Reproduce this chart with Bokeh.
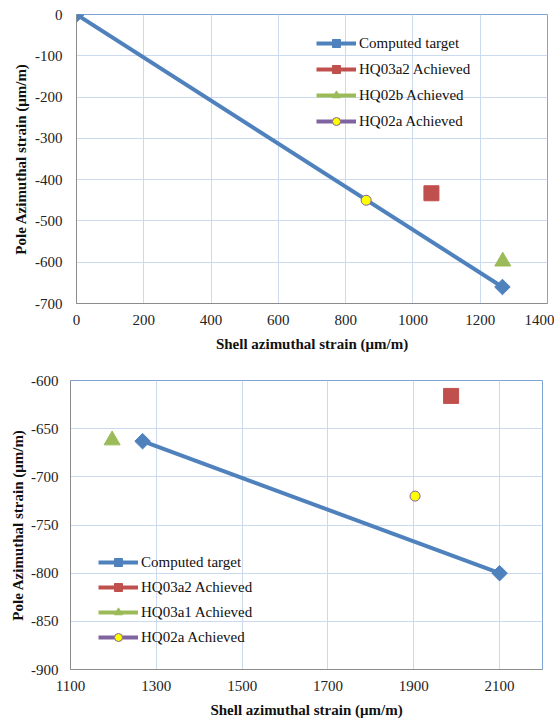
import math
from bokeh.plotting import figure
from bokeh.layouts import column
from bokeh.models import Legend, LegendItem, FixedTicker, Range1d
from bokeh.embed import file_html
from bokeh.resources import INLINE

# ---- Data: top chart ----
top_target_x = [0, 1266]
top_target_y = [0, -660]
top_hq03a2_x = [1055]
top_hq03a2_y = [-433]
top_hq02b_x = [1267]
top_hq02b_y = [-598]
top_hq02a_x = [861]
top_hq02a_y = [-450]
top_xticks = [0, 200, 400, 600, 800, 1000, 1200, 1400]
top_yticks = [0, -100, -200, -300, -400, -500, -600, -700]

# ---- Data: bottom chart ----
bot_target_x = [1268, 2100]
bot_target_y = [-663, -800]
bot_hq03a2_x = [1987]
bot_hq03a2_y = [-616]
bot_hq03a1_x = [1197]
bot_hq03a1_y = [-662]
bot_hq02a_x = [1903]
bot_hq02a_y = [-720]
bot_xticks = [1100, 1300, 1500, 1700, 1900, 2100]
bot_yticks = [-600, -650, -700, -750, -800, -850, -900]

BLUE = "#4F81BD"
RED = "#C0504D"
GREEN = "#9BBB59"
PURPLE = "#8064A2"
YELLOW = "#FFFF00"
GRID = "#CBDAEE"
OUTLINE = "#7FA5D6"
AXIS = "#8C8C8C"
FONT = "Liberation Serif"
XTITLE = "Shell azimuthal strain (\u03bcm/m)"
YTITLE = "Pole Azimuthal strain (\u03bcm/m)"


def fmt(v):
    return "%d" % v


def style(p, xticks, yticks, ylab_standoff, ytitle_standoff):
    p.xaxis.ticker = FixedTicker(ticks=xticks)
    p.yaxis.ticker = FixedTicker(ticks=yticks)
    p.xgrid.ticker = FixedTicker(ticks=xticks)
    p.ygrid.ticker = FixedTicker(ticks=yticks)
    p.xaxis.major_label_overrides = {float(t): fmt(t) for t in xticks}
    p.yaxis.major_label_overrides = {float(t): fmt(t) for t in yticks}
    for ax in (p.xaxis[0], p.yaxis[0]):
        ax.major_tick_line_color = None
        ax.minor_tick_line_color = None
        ax.major_tick_out = 0
        ax.major_tick_in = 0
        ax.axis_line_color = AXIS
        ax.axis_line_width = 1
        ax.major_label_text_font = FONT
        ax.major_label_text_font_size = "15px"
        ax.major_label_text_color = "#222222"
        ax.axis_label_text_font = FONT
        ax.axis_label_text_font_size = "15px"
        ax.axis_label_text_font_style = "bold"
        ax.axis_label_text_color = "#111111"
    p.xaxis.major_label_standoff = 11
    p.yaxis.major_label_standoff = ylab_standoff
    p.xaxis.axis_label_standoff = 8
    p.yaxis.axis_label_standoff = ytitle_standoff
    p.xaxis.axis_label = XTITLE
    p.yaxis.axis_label = YTITLE
    p.grid.grid_line_color = GRID
    p.grid.grid_line_width = 1
    p.outline_line_color = OUTLINE
    p.outline_line_width = 1
    p.background_fill_color = "white"
    p.border_fill_color = "white"


def add_series(p, tx, ty, ax_, ay_, bx_, by_, cx_, cy_, b_label, loc, spacing):
    items = []
    l1 = p.line(tx, ty, line_color=BLUE, line_width=4)
    m1 = p.scatter(tx, ty, marker="square", angle=math.pi / 4, size=11,
                   fill_color=BLUE, line_color=BLUE)
    items.append(LegendItem(label="Computed target", renderers=[l1, m1]))

    l2 = p.line(ax_, ay_, line_color=RED, line_width=4)
    m2 = p.scatter(ax_, ay_, marker="square", size=15, fill_color=RED, line_color=RED)
    items.append(LegendItem(label="HQ03a2 Achieved", renderers=[l2, m2]))

    l3 = p.line(bx_, by_, line_color=GREEN, line_width=4)
    m3 = p.scatter(bx_, by_, marker="triangle", size=16, fill_color=GREEN, line_color=GREEN)
    items.append(LegendItem(label=b_label, renderers=[l3, m3]))

    l4 = p.line(cx_, cy_, line_color=PURPLE, line_width=4)
    m4 = p.scatter(cx_, cy_, marker="circle", size=10, fill_color=YELLOW,
                   line_color=PURPLE, line_width=1)
    items.append(LegendItem(label="HQ02a Achieved", renderers=[l4, m4]))

    leg = Legend(items=items, location=loc)
    leg.background_fill_alpha = 0
    leg.border_line_color = None
    leg.padding = 0
    leg.margin = 0
    leg.spacing = spacing
    leg.glyph_width = 40
    leg.glyph_height = 20
    leg.label_height = 20
    leg.label_standoff = 3
    leg.label_text_font = FONT
    leg.label_text_font_size = "15px"
    leg.label_text_color = "#111111"
    p.add_layout(leg, "center")


# ---- Top figure ----
p1 = figure(width=554, height=355, output_backend="svg", toolbar_location=None,
            x_range=Range1d(0, 1400), y_range=Range1d(-700, 0),
            min_border_left=76, min_border_right=7, min_border_top=14,
            min_border_bottom=52)
style(p1, top_xticks, top_yticks, 14, 3)
add_series(p1, top_target_x, top_target_y, top_hq03a2_x, top_hq03a2_y,
           top_hq02b_x, top_hq02b_y, top_hq02a_x, top_hq02a_y,
           "HQ02b Achieved", (240, 172), 6)

# ---- Bottom figure ----
p2 = figure(width=554, height=366, output_backend="svg", toolbar_location=None,
            x_range=Range1d(1100, 2200), y_range=Range1d(-900, -600),
            min_border_left=70, min_border_right=12, min_border_top=25,
            min_border_bottom=52)
style(p2, bot_xticks, bot_yticks, 12, 2)
add_series(p2, bot_target_x, bot_target_y, bot_hq03a2_x, bot_hq03a2_y,
           bot_hq03a1_x, bot_hq03a1_y, bot_hq02a_x, bot_hq02a_y,
           "HQ03a1 Achieved", (28, 22), 5)

layout = column(column(p1), column(p2), spacing=0)
open("out.html", "w").write(file_html(layout, INLINE))
